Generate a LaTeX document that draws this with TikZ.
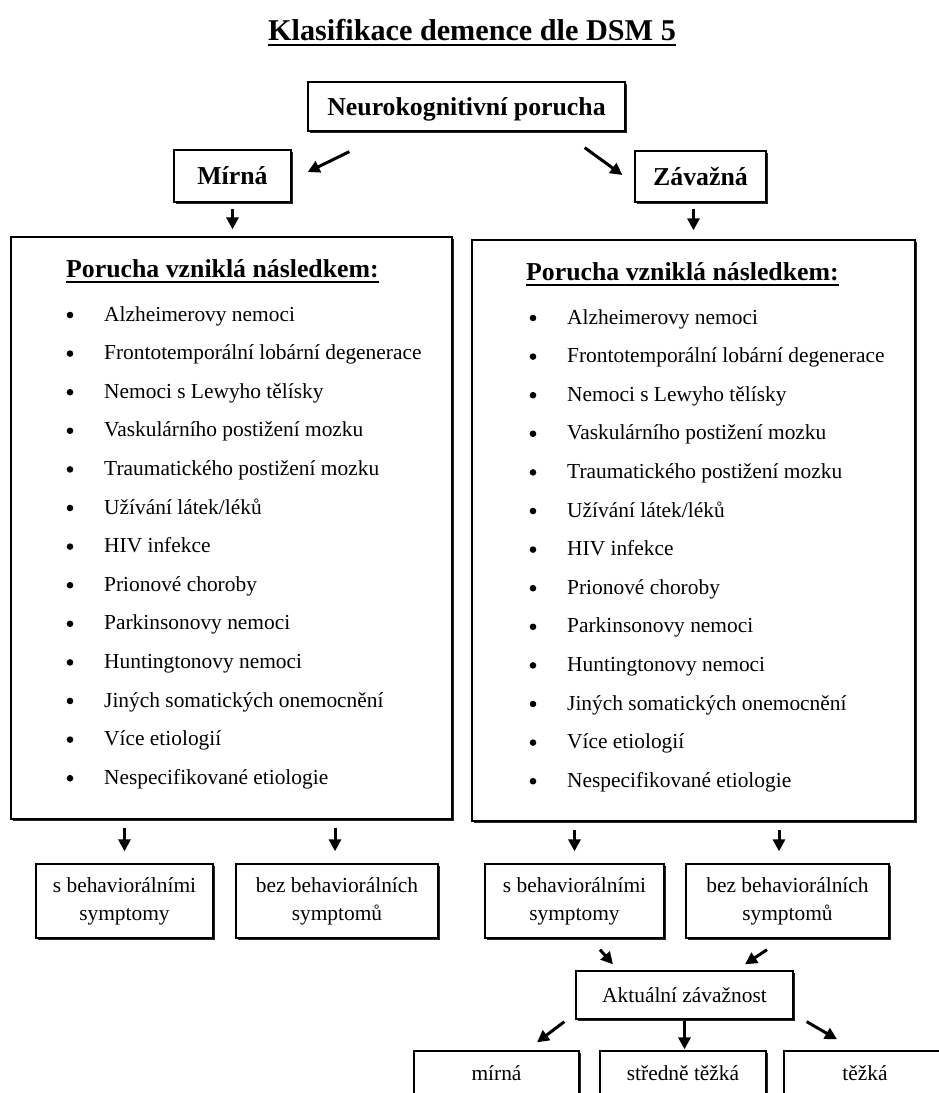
\documentclass[tikz,border=0pt]{standalone}
\usepackage{fontspec}
\setmainfont{Liberation Serif}
\usetikzlibrary{shadows,arrows.meta,calc}
\begin{document}
\begin{tikzpicture}[x=1pt,y=-1pt,
  box/.style={draw=black, line width=1.3pt, fill=white, inner sep=0pt,
    drop shadow={shadow xshift=2pt, shadow yshift=-2pt, opacity=1, fill=black!85}},
  bold/.style={font=\fontsize{25.8}{30}\selectfont\bfseries},
  body/.style={font=\fontsize{21.4}{28}\selectfont},
  arr/.style={-{Triangle[length=12pt,width=12pt]}, line width=3pt},
  item/.style={body, inner sep=0pt, anchor=base west},
  uline/.style={line width=1.6pt}
]
\useasboundingbox (0,0) rectangle (938,1093);
\fill[white] (0,0) rectangle (938,1093);

% title
\node[font=\fontsize{30.2}{36}\selectfont\bfseries, inner sep=0pt, anchor=base] (title) at (472,40) {Klasifikace demence dle DSM 5};
\draw[line width=1.8pt] ([yshift=-5pt]title.base west) -- ([yshift=-5pt]title.base east);

% top level
\node[box, bold, text depth=0pt, minimum width=317pt, minimum height=49pt] (neuro) at (466.5,106.5) {Neurokognitivní porucha};
\node[box, bold, minimum width=117pt, minimum height=52pt] (mirna) at (232.5,176) {Mírná};
\node[box, bold, minimum width=131pt, minimum height=51pt] (zav) at (700.5,176.5) {Závažná};

% big boxes
\node[box, minimum width=441pt, minimum height=582pt] (bigL) at (231.5,528) {};
\node[box, minimum width=443pt, minimum height=581pt] (bigR) at (693.5,530.5) {};

\node[bold, inner sep=0pt, anchor=base west] (hL) at (66,277) {Porucha vzniklá následkem:};
\draw[uline] ([yshift=-5pt]hL.base west) -- ([yshift=-5pt]hL.base east);
\node[bold, inner sep=0pt, anchor=base west] (hR) at (526,280) {Porucha vzniklá následkem:};
\draw[uline] ([yshift=-5pt]hR.base west) -- ([yshift=-5pt]hR.base east);

\foreach \t [count=\i from 0] in {Alzheimerovy nemoci, Frontotemporální lobární degenerace, Nemoci s Lewyho tělísky, Vaskulárního postižení mozku, Traumatického postižení mozku, Užívání látek/léků, HIV infekce, Prionové choroby, Parkinsonovy nemoci, Huntingtonovy nemoci, Jiných somatických onemocnění, Více etiologií, Nespecifikované etiologie}{
  \node[item] (L\i) at (104,{321+\i*38.6}) {\t};
  \fill (70,{315+\i*38.6}) circle (3.3);
  \node[item] (R\i) at (567,{324+\i*38.6}) {\t};
  \fill (533,{318+\i*38.6}) circle (3.3);
}

% second level boxes
\node[box, body, align=center, minimum width=177pt, minimum height=74pt] (sL) at (124.5,901) {s behaviorálními\\symptomy};
\node[box, body, align=center, minimum width=202pt, minimum height=74pt] (bL) at (337,901) {bez behaviorálních\\symptomů};
\node[box, body, align=center, minimum width=179pt, minimum height=74pt] (sR) at (574.5,901) {s behaviorálními\\symptomy};
\node[box, body, align=center, minimum width=203pt, minimum height=74pt] (bR) at (787.5,901) {bez behaviorálních\\symptomů};

\node[box, body, minimum width=217pt, minimum height=48pt] (akt) at (684.5,995) {Aktuální závažnost};
\node[box, body, minimum width=165pt, minimum height=45pt] (mi) at (496.5,1073.5) {mírná};
\node[box, body, minimum width=166pt, minimum height=45pt] (st) at (683,1073.5) {středně těžká};
\node[box, body, minimum width=162pt, minimum height=45pt] (tz) at (865,1073.5) {těžká};

% arrows
\draw[arr] ([shift={(42,20)}]neuro.south west) -- ([shift={(16,-4)}]mirna.east);
\draw[arr] ([shift={(-41,16)}]neuro.south east) -- ([shift={(-12,-1.5)}]zav.west);
\draw[arr, shorten <=6pt, shorten >=7pt] (mirna.south) -- (mirna.south |- bigL.north);
\draw[arr, shorten <=6pt, shorten >=9pt] ([xshift=-7pt]zav.south) -- ([xshift=-7pt]zav.south |- bigR.north);

\draw[arr, shorten <=8pt, shorten >=12pt] (sL.north |- bigL.south) -- (sL.north);
\draw[arr, shorten <=8pt, shorten >=12pt] ([xshift=-2pt]bL.north |- bigL.south) -- ([xshift=-2pt]bL.north);
\draw[arr, shorten <=8pt, shorten >=12pt] (sR.north |- bigR.south) -- (sR.north);
\draw[arr, shorten <=8pt, shorten >=12pt] ([xshift=-8.5pt]bR.north |- bigR.south) -- ([xshift=-8.5pt]bR.north);

\draw[arr] ([shift={(25.5,11)}]sR.south) -- ([shift={(-71.5,-6)}]akt.north);
\draw[arr] ([shift={(-20.5,11)}]bR.south) -- ([shift={(60.5,-6)}]akt.north);
\draw[arr] ([shift={(-11,2)}]akt.south west) -- ([shift={(40.5,-8)}]mi.north);
\draw[arr, shorten <=1pt, shorten >=1pt] (akt.south) -- (akt.south |- st.north);
\draw[arr] ([shift={(13,2)}]akt.south east) -- ([shift={(-28,-11)}]tz.north);
\end{tikzpicture}
\end{document}
